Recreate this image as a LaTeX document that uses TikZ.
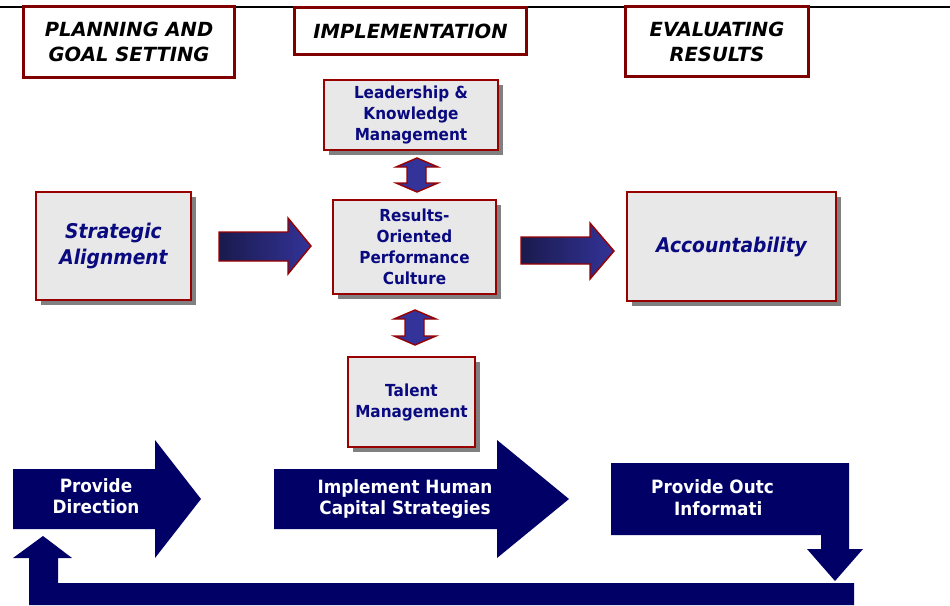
\documentclass[tikz,border=0pt]{standalone}
\usepackage{fontspec}
\setmainfont{DejaVu Sans}
\newfontfamily\tahoma[FakeStretch=0.92]{DejaVu Sans}
\usepackage{tikz}
\usetikzlibrary{positioning}
\usetikzlibrary{shadows}
\definecolor{phasered}{HTML}{800000}
\definecolor{boxred}{HTML}{990000}
\definecolor{boxgray}{HTML}{E8E8E8}
\definecolor{shadowgray}{HTML}{808080}
\definecolor{navytext}{HTML}{0A0A80}
\definecolor{arrowdark}{HTML}{1A1A4D}
\definecolor{arrowblue}{HTML}{333399}
\definecolor{flownavy}{HTML}{000066}

\begin{document}
\begin{tikzpicture}[x=1pt,y=-1pt,
    phase/.style={draw=phasered, line width=3pt, fill=white, inner sep=0pt,
      align=center, font=\fontsize{19.5}{25}\selectfont\bfseries\itshape},
    area/.style={draw=boxred, line width=1.6pt, fill=boxgray, inner sep=0pt,
      align=center, text=navytext, font=\tahoma\fontsize{16.6}{21}\selectfont\bfseries,
      drop shadow={shadow xshift=5pt, shadow yshift=-5pt, fill=shadowgray, opacity=1}},
    goal/.style={area, font=\tahoma\fontsize{20.3}{26}\selectfont\bfseries\itshape},
    flowtext/.style={text=white, align=center, inner sep=0pt,
      font=\tahoma\fontsize{18.3}{21.5}\selectfont\bfseries},
    pipe/.style={draw=boxred, line width=1.4pt, left color=arrowdark, right color=arrowblue},
    lift/.style={draw=boxred, line width=1.4pt, fill=arrowblue},
    flow/.style={fill=flownavy}]
  \useasboundingbox (0,0) rectangle (950,605);

  \draw[line width=2pt] (0,7) -- (950,7);

  % phases
  \node[phase, minimum width=211pt, minimum height=71pt] (plan) at (129,42) {PLANNING AND\\GOAL SETTING};
  \node[phase, minimum width=232pt, minimum height=47pt] (impl) at (410.5,31) {IMPLEMENTATION};
  \node[phase, minimum width=183pt, minimum height=70pt] (eval) at (717,41.5) {EVALUATING\\RESULTS};

  % systems
  \node[area, minimum width=174pt, minimum height=70pt] (lead) at (411,115) {Leadership \&\\Knowledge\\Management};
  \node[area, minimum width=163pt, minimum height=94pt] (culture) at (414.5,247) {Results-\\Oriented\\Performance\\Culture};
  \node[area, minimum width=127pt, minimum height=90pt] (talent) at (411.5,402) {Talent\\Management};
  \node[goal, minimum width=155pt, minimum height=108pt] (align) at (113.5,246) {Strategic\\Alignment};
  \node[goal, minimum width=209pt, minimum height=109pt] (account) at (731.5,246.5) {Accountability};

  \draw[pipe] (219,232) -- (288,232) -- (288,218) -- (311,246) -- (288,274) -- (288,261) -- (219,261) -- cycle;
  \draw[pipe] (521,237) -- (590,237) -- (590,223) -- (614,251) -- (590,279) -- (590,264) -- (521,264) -- cycle;

  \draw[lift] (417,158) -- (438,167) -- (426,167) -- (426,183) -- (438,183) -- (417,192)
    -- (396,183) -- (407,183) -- (407,167) -- (396,167) -- cycle;
  \draw[lift] (415,310) -- (436,319) -- (424,319) -- (424,336) -- (436,336) -- (415,345)
    -- (394,336) -- (405,336) -- (405,319) -- (394,319) -- cycle;

  % process
  \fill[flow] (13,469) -- (155,469) -- (155,440) -- (201,499) -- (155,558) -- (155,529) -- (13,529) -- cycle;
  \fill[flow] (274,469) -- (497,469) -- (497,440) -- (569,499) -- (497,558) -- (497,529) -- (274,529) -- cycle;
  \fill[flow] (611,463) -- (849,463) -- (849,549) -- (863,549) -- (835,581) -- (807,549) -- (821,549)
    -- (821,535) -- (611,535) -- cycle;
  \fill[flow] (29,605) -- (29,558) -- (13,558) -- (43,536) -- (72,558) -- (58,558) -- (58,583)
    -- (854,583) -- (854,605) -- cycle;

  \node[flowtext] (direct) at (96,496) {Provide\\Direction};
  \node[flowtext] (human) at (405,499) {Implement Human\\Capital Strategies};
  \node[flowtext, anchor=base west] (outcome) at (651,493) {Provide Outc};
  \node[flowtext, anchor=base west] (outinfo) at (674,515) {Informati};
\end{tikzpicture}
\end{document}
